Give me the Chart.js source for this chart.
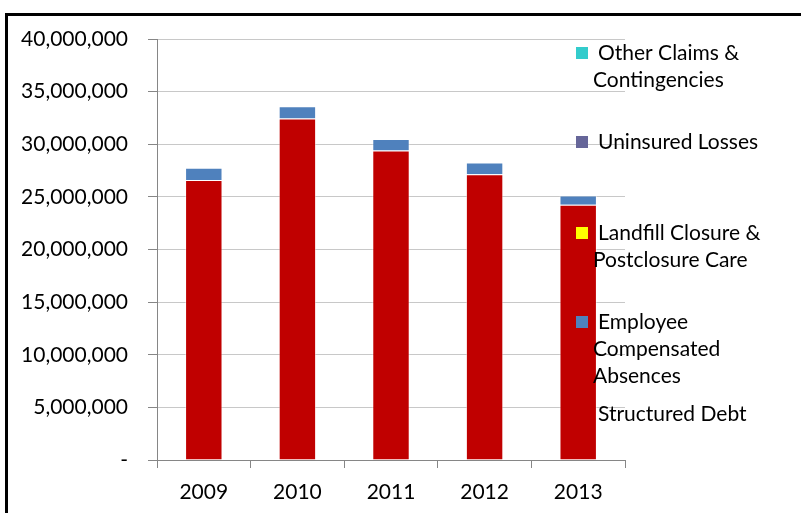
<!DOCTYPE html>
<html>
<head>
<meta charset="utf-8">
<script src="https://cdn.jsdelivr.net/npm/chart.js@4.4.0/dist/chart.umd.min.js"></script>
<style>
  html, body { margin: 0; padding: 0; background: #fff; }
  #wrap { position: relative; width: 801px; height: 513px; overflow: hidden; }
  #frame { position: absolute; left: 5px; top: 13px; width: 820px; height: 520px;
           border-left: 3px solid #000; border-top: 3px solid #000; }
  canvas { position: absolute; left: 0; top: 0; }
</style>
</head>
<body>
<div id="wrap">
  <div id="frame"></div>
  <canvas id="myChart" width="801" height="513"></canvas>
</div>
<script>
var years = ["2009", "2010", "2011", "2012", "2013"];

var structuredDebt = [26600000, 32450000, 29400000, 27160000, 24240000];
var compensatedAbsences = [1160000, 1170000, 1100000, 1100000, 890000];
var landfillClosure = [0, 0, 0, 0, 0];
var uninsuredLosses = [0, 0, 0, 0, 0];
var otherClaims = [0, 0, 0, 0, 0];

var yTicks = [0, 5000000, 10000000, 15000000, 20000000, 25000000, 30000000, 35000000, 40000000];

var font = "Lato";

// legend like excel: reversed order, wrapped text, drawn over the plot
var legendItems = [
	{ color: "#33CCCC", lines: ["Other Claims &", "Contingencies"], y: 53 },
	{ color: "#666699", lines: ["Uninsured Losses"], y: 142 },
	{ color: "#FFFF00", lines: ["Landfill Closure &", "Postclosure Care"], y: 233 },
	{ color: "#4F81BD", lines: ["Employee", "Compensated", "Absences"], y: 322 },
	{ color: "#C00000", lines: ["Structured Debt"], y: 414 }
];

var sideLegend = {
	id: "sideLegend",
	afterDatasetsDraw: function(chart) {
		var c = chart.ctx;
		c.save();
		c.font = "21px " + font;
		c.textBaseline = "middle";
		legendItems.forEach(function(item) {
			c.fillStyle = item.color;
			c.fillRect(576, item.y - 6, 12, 12);
			c.fillStyle = "#000";
			for (var i = 0; i < item.lines.length; i++) {
				var x = i == 0 ? 598 : 593;
				c.fillText(item.lines[i], x, item.y + i * 27);
			}
		});
		c.restore();
	}
};

function makeSet(label, data, color) {
	return {
		label: label,
		data: data,
		backgroundColor: color,
		borderColor: "rgba(255,255,255,0.45)",
		borderWidth: 1,
		barPercentage: 0.4,
		categoryPercentage: 1.0
	};
}

var chartContext = document.getElementById("myChart").getContext("2d");
var chart = new Chart(chartContext, {
	type: "bar",
	data: {
		labels: years,
		datasets: [
			makeSet("Structured Debt", structuredDebt, "#C00000"),
			makeSet("Employee Compensated Absences", compensatedAbsences, "#4F81BD"),
			makeSet("Landfill Closure & Postclosure Care", landfillClosure, "#FFFF00"),
			makeSet("Uninsured Losses", uninsuredLosses, "#666699"),
			makeSet("Other Claims & Contingencies", otherClaims, "#33CCCC")
		]
	},
	options: {
		responsive: false,
		animation: false,
		layout: { padding: { left: 0, top: 39, right: 176, bottom: 0 } },
		plugins: {
			legend: { display: false },
			tooltip: { enabled: false }
		},
		scales: {
			x: {
				stacked: true,
				grid: { drawOnChartArea: false, tickLength: 8, color: "#868686", offset: true },
				border: { color: "#868686", width: 1 },
				ticks: { color: "#000", font: { family: font, size: 21 }, padding: 12 },
				afterFit: function(scale) { scale.height = 53; }
			},
			y: {
				stacked: true,
				min: 0,
				max: 40000000,
				afterBuildTicks: function(scale) {
					scale.ticks = yTicks.map(function(v) { return { value: v }; });
				},
				grid: { color: "#C8C8C8", tickLength: 9, tickColor: "#868686" },
				border: { color: "#868686", width: 1 },
				ticks: {
					color: "#000",
					font: { family: font, size: 21 },
					padding: 20,
					callback: function(v) {
						if (v == 0) return "-";
						return v.toLocaleString("en-US");
					}
				},
				afterFit: function(scale) { scale.width = 157; }
			}
		}
	},
	plugins: [sideLegend]
});
</script>
</body>
</html>
